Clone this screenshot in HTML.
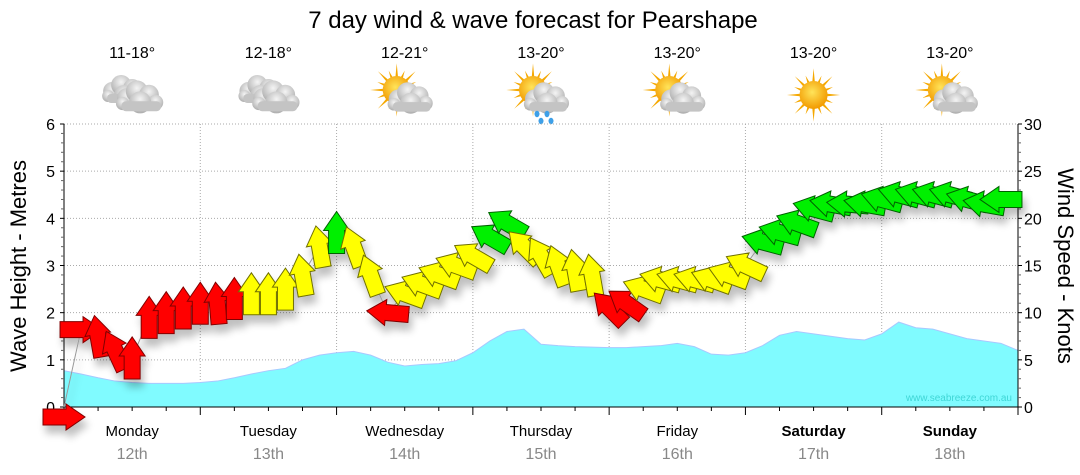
<!DOCTYPE html>
<html><head><meta charset="utf-8"><style>
body{margin:0;background:#fff;}
svg{display:block;font-family:"Liberation Sans","DejaVu Sans",sans-serif;}
</style></head><body>
<svg id="chart" width="1080" height="475" viewBox="0 0 1080 475" xmlns="http://www.w3.org/2000/svg">
<defs>
<filter id="sh" x="-50%" y="-50%" width="200%" height="200%"><feGaussianBlur in="SourceAlpha" stdDeviation="4"/><feOffset dx="3" dy="8"/><feComponentTransfer><feFuncA type="linear" slope="0.25"/></feComponentTransfer><feMerge><feMergeNode/><feMergeNode in="SourceGraphic"/></feMerge></filter>
<radialGradient id="cloudg" cx="50%" cy="35%" r="70%"><stop offset="0" stop-color="#f4f4f4"/><stop offset="1" stop-color="#a8a8a8"/></radialGradient>
<radialGradient id="sung" cx="45%" cy="40%" r="60%"><stop offset="0" stop-color="#ffe45a"/><stop offset="1" stop-color="#f29a00"/></radialGradient>
</defs>
<text x="533" y="28" font-size="24" text-anchor="middle" fill="#000">7 day wind &amp; wave forecast for Pearshape</text>
<g id="topg"></g>
<g id="grid"></g>
<g id="wave"></g>
<g id="axes"></g>
<g id="arrows" filter="url(#sh)"></g>
<text x="1012" y="401" font-size="10" text-anchor="end" fill="#3fd6d6">www.seabreeze.com.au</text>
<text transform="translate(26,266) rotate(-90)" font-size="22" text-anchor="middle">Wave Height - Metres</text>
<text transform="translate(1058,266) rotate(90)" font-size="22" text-anchor="middle">Wind Speed - Knots</text>
</svg>
<script>
const days=["Monday","Tuesday","Wednesday","Thursday","Friday","Saturday","Sunday"];
const dates=["12th","13th","14th","15th","16th","17th","18th"];
const temps=["11-18°","12-18°","12-21°","13-20°","13-20°","13-20°","13-20°"];
const icons=["cloud","cloud","suncloud","rain","suncloud","sun","suncloud"];
const waveTicks=[0,1,2,3,4,5,6];
const windTicks=[0,5,10,15,20,25,30];
// wave height (m), 3-hourly, 57 points
const wave=[0.77,0.7,0.62,0.55,0.52,0.5,0.5,0.5,0.52,0.55,0.62,0.7,0.77,0.82,1.0,1.1,1.15,1.18,1.1,0.95,0.87,0.9,0.92,0.98,1.15,1.4,1.6,1.65,1.33,1.3,1.28,1.27,1.26,1.26,1.28,1.3,1.35,1.28,1.12,1.1,1.15,1.3,1.52,1.6,1.55,1.5,1.45,1.42,1.55,1.8,1.68,1.65,1.55,1.45,1.4,1.35,1.2];
// wind speed (knots), 3-hourly
const windSpeed=[-1,8.2,7.5,6,5.2,9.5,10,10.5,11,11,11.5,12,12,12.5,14,17,18.5,17,14,10,12,13,14,15,16,18,19.5,17,16,15,14.5,14,10.5,11,12.5,13.5,13.5,13.5,13.5,14,15,17.5,18.5,19.5,21,21.5,21.5,21.5,22,22.5,22.5,22.5,22.5,22,21.5,22];
// wind arrow heading (screen degrees, 0 = right, 90 = up)
const windDir=[0,0,100,115,90,90,90,90,90,95,90,90,90,90,100,100,90,110,110,175,160,160,160,160,150,150,150,135,120,110,100,100,135,145,160,165,165,165,160,160,155,165,165,160,165,170,175,170,165,165,165,165,165,165,170,180];
const x0=64,x1=1018,y0=407,y1=124;
const NS="http://www.w3.org/2000/svg";
const xs=i=>x0+i*(x1-x0)/56;
const yw=m=>y0-m*(y0-y1)/6;
const yk=k=>y0-k*(y0-y1)/30;
const dayW=(x1-x0)/7;
function mk(tag,attrs,parent){const e=document.createElementNS(NS,tag);for(const k in attrs)e.setAttribute(k,attrs[k]);parent.appendChild(e);return e;}
const G=id=>document.getElementById(id);
const grid=G('grid');
for(let m=1;m<=6;m++){const l=mk('line',{x1:x0,x2:x1,y1:yw(m),y2:yw(m),stroke:'#aaa','stroke-dasharray':'1,2'},grid);

}
for(let d=1;d<7;d++){const l=mk('line',{x1:x0+d*dayW,x2:x0+d*dayW,y1:y1,y2:y0,stroke:'#aaa','stroke-dasharray':'1,2'},grid);

}
let wp=`M${x0},${y0}`;wave.forEach((v,i)=>wp+=`L${xs(i)},${yw(v)}`);wp+=`L${x1},${y0}Z`;
const wa=mk('path',{d:wp,fill:'#80fbff',stroke:'#a8c8ff','stroke-width':1},G('wave'));


const ax=G('axes');
mk('line',{x1:x0,x2:x0,y1:y1,y2:y0,stroke:'#000'},ax);
mk('line',{x1:x1,x2:x1,y1:y1,y2:y0,stroke:'#000'},ax);
mk('line',{x1:x0,x2:x1,y1:y0,y2:y0,stroke:'#000'},ax);
for(let j=0;j<=30;j++){const y=yk(j),big=j%5==0;
mk('line',{x1:x0-(big?4:3),x2:x0,y1:y,y2:y,stroke:big?'#000':'#666'},ax);
mk('line',{x1:x1,x2:x1+(big?4:3),y1:y,y2:y,stroke:big?'#000':'#666'},ax);}
waveTicks.forEach(m=>{const t=mk('text',{x:x0-9,y:yw(m)+6,'font-size':16,'text-anchor':'end'},ax);t.textContent=m;

});
windTicks.forEach(k=>{const t=mk('text',{x:x1+6,y:yk(k)+6,'font-size':16},ax);t.textContent=k;

});
for(let q=0;q<=28;q++){const x=x0+q*dayW/4,big=q%4==0;mk('line',{x1:x,x2:x,y1:y0,y2:y0+(big?8:4),stroke:'#000'},ax);}
days.forEach((d,i)=>{const cx=x0+(i+0.5)*dayW;
const t=mk('text',{x:cx,y:436,'font-size':15,'text-anchor':'middle','font-weight':i>=5?'bold':'normal'},ax);t.textContent=d;


const t2=mk('text',{x:cx,y:459,'font-size':16,'text-anchor':'middle',fill:'#888'},ax);t2.textContent=dates[i];

});
const topG=G('topg');
function cloud(g,cx,cy,s){const c=mk('g',{transform:`translate(${cx},${cy}) scale(${s})`},g);
[[-12,0,9],[-3,-6,10],[8,-3,9],[-16,5,6],[14,4,7],[0,4,10]].forEach(a=>mk('circle',{cx:a[0],cy:a[1],r:a[2],fill:'url(#cloudg)'},c));
mk('rect',{x:-17,y:3,width:36,height:9,rx:4,fill:'#c4c4c4'},c);}
function sun(g,cx,cy,r){for(let a=0;a<360;a+=22.5){const rad=a*Math.PI/180;const l=(a/22.5)%2?r*1.5:r*1.9;
mk('polygon',{points:`${cx+Math.cos(rad+0.13)*r*0.8},${cy+Math.sin(rad+0.13)*r*0.8} ${cx+Math.cos(rad)*l},${cy+Math.sin(rad)*l} ${cx+Math.cos(rad-0.13)*r*0.8},${cy+Math.sin(rad-0.13)*r*0.8}`,fill:'#f5a800'},g);}
mk('circle',{cx:cx,cy:cy,r:r,fill:'url(#sung)'},g);}
temps.forEach((t,i)=>{const cx=x0+(i+0.5)*dayW;
const tt=mk('text',{x:cx,y:58,'font-size':16,'text-anchor':'middle'},topG);tt.textContent=t;


const g=mk('g',{},topG);


const k=icons[i];
if(k=='cloud'){cloud(g,cx-8,91,1.0);cloud(g,cx+8,98,1.1);}
else if(k=='sun'){sun(g,cx,95,14);}
else{sun(g,cx-8,90,14);cloud(g,cx+6,99,1.05);
if(k=='rain'){[[-4,114],[6,114],[0,121],[10,121]].forEach(d=>mk('ellipse',{cx:cx+d[0],cy:d[1],rx:2.5,ry:3.2,fill:'#3ea0e8'},g));}}
});
const ag=G('arrows');
let lp='';windSpeed.forEach((s,i)=>{lp+=(i?'L':'M')+xs(i)+','+yk(Math.max(s,0));});
mk('path',{d:lp,fill:'none',stroke:'#999','stroke-width':1},ag);
windSpeed.forEach((s,i)=>{
const col=s<11.8?'#ff0000':(s<17.5?'#ffff00':'#00f000');
const st=s<11.8?'#800000':(s<17.5?'#707000':'#006000');
const cx=xs(i),cy=s<0?417:yk(s);
const a=mk('polygon',{points:'-21,-8 2,-8 2,-13 21,0 2,13 2,8 -21,8',fill:col,stroke:st,'stroke-width':1,
transform:`translate(${cx},${cy}) rotate(${-windDir[i]})`},ag);


});
</script>
</body></html>
